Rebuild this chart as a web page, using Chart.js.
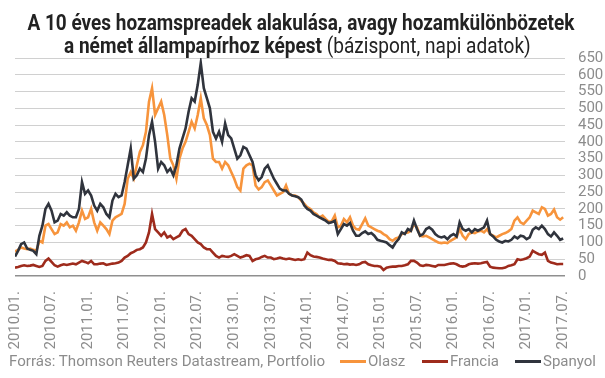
<!DOCTYPE html>
<html>
<head>
<meta charset="utf-8">
<script src="https://cdn.jsdelivr.net/npm/chart.js@4.4.1/dist/chart.umd.min.js"></script>
<style>
  body { margin: 0; width: 605px; height: 378px; overflow: hidden; background: #fff; font-family: Roboto, sans-serif; }
  #wrap { position: absolute; left: 0; top: 0; width: 605px; height: 378px; }
  .t { position: absolute; white-space: nowrap; display: inline-block; line-height: 23px; color: #222; font-size: 22px; }
  #t1 { font-weight: bold; top: 11px; }
  #t2 { top: 34px; }
  .f { position: absolute; white-space: nowrap; display: inline-block; font-size: 15px; line-height: 18px; color: #8c8c8c; top: 352px; transform-origin: left center; }
  .ln { position: absolute; height: 3px; width: 26px; top: 360px; }
</style>
</head>
<body>
<div id="wrap"><canvas id="chart"></canvas></div>
<div class="t" id="t1">A 10 éves hozamspreadek alakulása, avagy hozamkülönbözetek</div>
<div class="t" id="t2"><b>a német állampapírhoz képest</b> (bázispont, napi adatok)</div>
<div class="f" id="src">Forrás: Thomson Reuters Datastream, Portfolio</div>
<div class="ln" style="left:340px;background:#f7943c"></div>
<div class="f" id="l1" style="left:368px">Olasz</div>
<div class="ln" style="left:422px;background:#9e2b1c"></div>
<div class="f" id="l2" style="left:450px">Francia</div>
<div class="ln" style="left:515px;background:#30343d"></div>
<div class="f" id="l3" style="left:543px">Spanyol</div>
<script>
// x axis: half-month steps from 2010.01. (index / 2 = months since 2010.01.)
let tickLabels = ['2010.01.', '2010.07.', '2011.01.', '2011.07.', '2012.01.', '2012.07.', '2013.01.', '2013.07.',
  '2014.01.', '2014.07.', '2015.01.', '2015.07.', '2016.01.', '2016.07.', '2017.01.', '2017.07.']

let olasz = [
  73, 78, 85, 82, 80, 82, 78, 75, 105, 100, 150, 155, 140, 125, 130, 155, 150, 160, 145, 150, 135, 160, 195, 170,
  175, 200, 160, 135, 160, 150, 140, 125, 165, 175, 180, 185, 215, 290, 310, 290, 330, 370, 390, 430, 520, 560, 480, 500,
  520, 480, 420, 350, 330, 290, 350, 380, 400, 430, 460, 440, 480, 530, 470, 450, 420, 350, 340, 340, 320, 340, 330, 310,
  290, 265, 255, 320, 330, 335, 330, 270, 258, 265, 280, 285, 270, 255, 240, 245, 250, 270, 245, 240, 240, 235, 225, 215,
  205, 200, 190, 185, 175, 180, 170, 162, 163, 180, 145, 150, 170, 160, 175, 150, 140, 138, 155, 172, 150, 145, 140, 135,
  132, 125, 120, 110, 105, 112, 115, 125, 128, 130, 135, 155, 145, 120, 118, 120, 115, 110, 105, 100, 98, 100, 98, 105,
  110, 115, 140, 120, 110, 125, 130, 128, 133, 135, 130, 140, 125, 120, 115, 120, 125, 128, 133, 140, 165, 175, 160, 155,
  165, 175, 195, 190, 185, 205, 200, 180, 185, 198, 175, 168, 175]
let francia = [
  25, 27, 30, 32, 30, 31, 33, 30, 27, 30, 45, 52, 42, 32, 28, 32, 35, 33, 35, 37, 35, 40, 45, 42,
  38, 45, 35, 35, 37, 38, 33, 35, 37, 38, 40, 45, 55, 60, 68, 72, 78, 80, 85, 100, 130, 185, 140, 130,
  120, 130, 115, 120, 110, 115, 120, 135, 140, 125, 120, 110, 100, 95, 85, 80, 80, 70, 60, 55, 60, 58, 57, 60,
  65, 60, 55, 58, 62, 60, 45, 50, 52, 57, 60, 55, 55, 50, 52, 55, 52, 50, 52, 50, 48, 50, 48, 50,
  70, 62, 58, 57, 55, 52, 50, 48, 48, 45, 38, 37, 35, 36, 34, 35, 33, 35, 40, 42, 35, 32, 30, 30,
  28, 18, 25, 27, 28, 28, 30, 30, 32, 35, 45, 45, 40, 32, 30, 33, 32, 30, 28, 33, 33, 33, 35, 37,
  38, 35, 30, 28, 30, 35, 37, 38, 37, 38, 40, 42, 28, 25, 24, 23, 23, 25, 30, 32, 35, 50, 48, 50,
  53, 58, 75, 70, 65, 63, 70, 45, 40, 38, 35, 36, 36]
let spanyol = [
  58, 75, 95, 100, 82, 78, 75, 65, 120, 150, 200, 215, 195, 160, 165, 185, 180, 190, 180, 175, 175, 200, 280, 245,
  255, 240, 210, 195, 215, 205, 185, 175, 225, 245, 235, 240, 280, 330, 380, 290, 300, 320, 310, 350, 420, 460, 400, 320,
  340, 330, 310, 320, 300, 330, 380, 410, 440, 490, 530, 520, 570, 635, 560, 530, 500, 430, 410, 430, 400, 455, 420, 410,
  380, 350, 360, 385, 380, 360, 340, 300, 285, 295, 320, 330, 310, 290, 275, 260, 255, 255, 245, 240, 238, 235, 228, 210,
  200, 195, 185, 180, 175, 170, 165, 158, 160, 165, 125, 140, 155, 150, 158, 135, 120, 120, 128, 133, 125, 128, 120, 108,
  105, 103, 100, 92, 85, 100, 110, 130, 125, 140, 135, 165, 140, 120, 125, 140, 145, 138, 125, 118, 115, 118, 110, 120,
  125, 118, 160, 140, 135, 140, 130, 140, 135, 140, 145, 165, 125, 118, 108, 103, 100, 105, 103, 108, 118, 112, 120, 118,
  110, 115, 138, 145, 140, 150, 140, 125, 118, 130, 120, 108, 112]

function pts(arr) {
  return arr.map((v, i) => ({x: i / 2, y: v}))
}

let ctx = document.getElementById('chart').getContext('2d')
let myChart = new Chart(ctx, {
  type: 'line',
  data: {
    datasets: [
      {label: 'Olasz', data: pts(olasz), borderColor: '#f7943c', order: 1},
      {label: 'Francia', data: pts(francia), borderColor: '#9e2b1c', order: 2},
      {label: 'Spanyol', data: pts(spanyol), borderColor: '#30343d', order: 0}
    ]
  },
  options: {
    responsive: true,
    maintainAspectRatio: false,
    animation: false,
    layout: {padding: {top: 58, bottom: 21.5, left: 15, right: 0}},
    elements: {
      point: {radius: 0},
      line: {borderWidth: 2.6, tension: 0}
    },
    plugins: {legend: {display: false}, tooltip: {enabled: false}},
    scales: {
      x: {
        type: 'linear', min: 0, max: 90.3,
        grid: {display: false},
        border: {display: false},
        afterBuildTicks: (axis) => { axis.ticks = tickLabels.map((l, i) => ({value: i * 6})) },
        ticks: {
          autoSkip: false, maxRotation: 90, minRotation: 90, padding: 7,
          color: '#8c8c8c', font: {family: 'Roboto', size: 15},
          callback: (v) => tickLabels[Math.round(v / 6)]
        }
      },
      y: {
        position: 'right', min: 0, max: 650,
        border: {display: false},
        afterFit: (axis) => { axis.width = 40 },
        grid: {
          drawTicks: false,
          color: (c) => c.tick.value == 0 ? '#8f8f8f' : '#d0d0d0',
          lineWidth: (c) => c.tick.value == 0 ? 1.6 : 1
        },
        ticks: {stepSize: 50, autoSkip: false, padding: 13, color: '#8c8c8c', font: {family: 'Roboto', size: 15}}
      }
    }
  }
})

// squeeze the title and source lines to the condensed width of the original
function fit(id, left, width, origin) {
  let el = document.getElementById(id)
  let w = el.offsetWidth
  el.style.transformOrigin = origin
  el.style.left = left + 'px'
  if (origin == 'center center') el.style.left = (left + width / 2 - w / 2) + 'px'
  el.style.transform = 'scaleX(' + (width / w) + ')'
}
fit('t1', 27, 547, 'center center')
fit('t2', 64, 467, 'center center')
fit('src', 9, 316, 'left center')
</script>
</body>
</html>
